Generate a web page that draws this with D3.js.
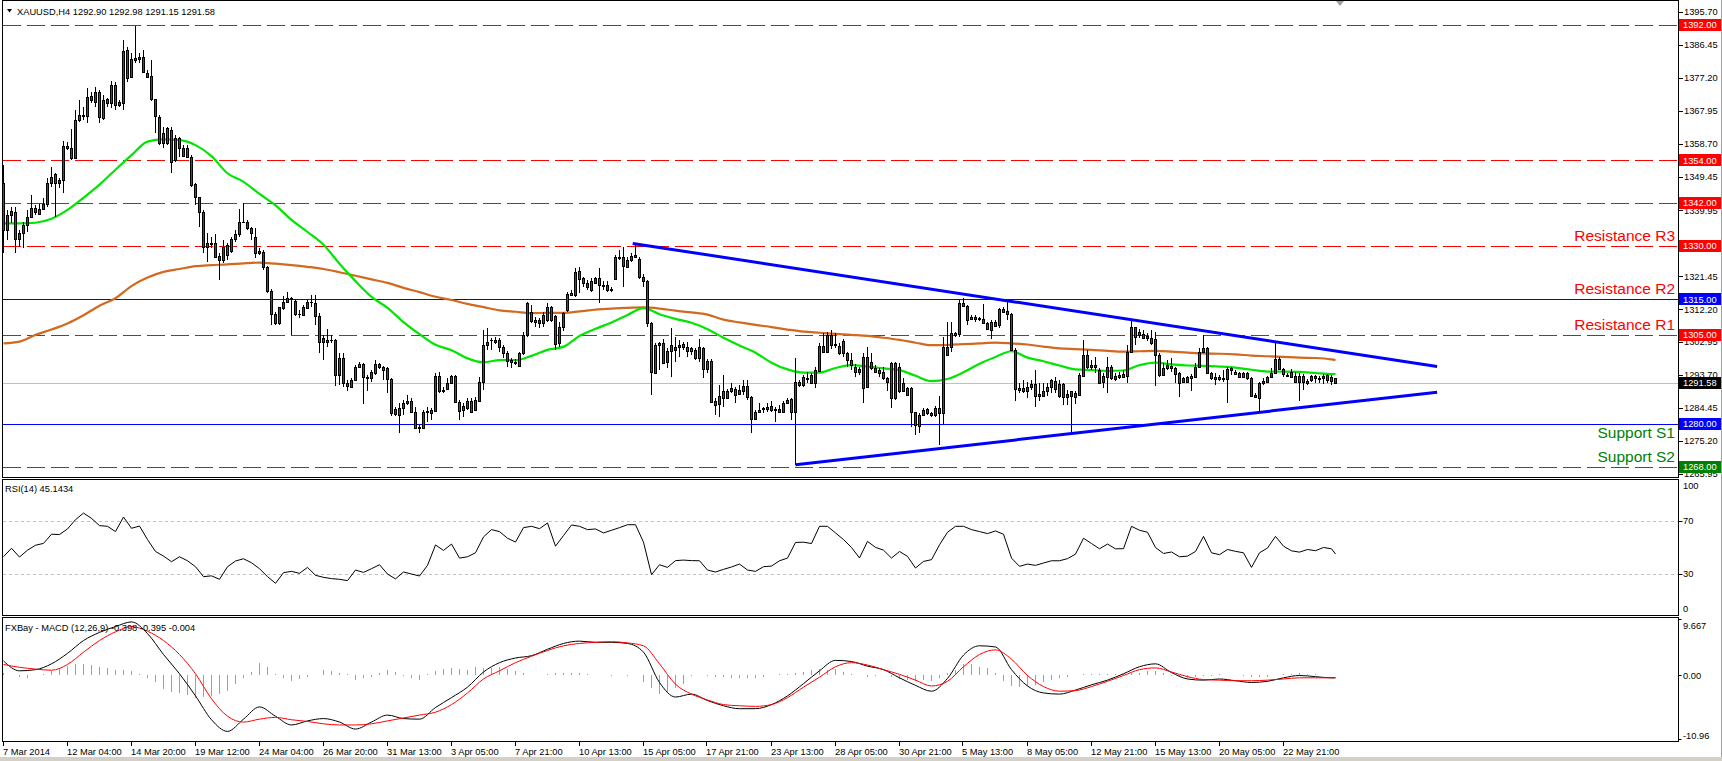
<!DOCTYPE html>
<html><head><meta charset="utf-8">
<script src="https://cdn.jsdelivr.net/npm/d3@7"></script>
<style>
html,body{margin:0;padding:0;background:#fff;overflow:hidden;}
svg{display:block;}
text{font-family:"Liberation Sans",Arial,sans-serif;}
</style></head><body>
<svg id="c" width="1722" height="761"></svg>
<script>
// ---------------- DATA ----------------
const symbolTitle = "XAUUSD,H4  1292.90 1292.98 1291.15 1291.58";
const rsiTitle = "RSI(14) 45.1434";
const macdTitle = "FXBay - MACD (12,26,9) -0.398 -0.395 -0.004";

const O = [1347.8,1334.5,1338.7,1339.6,1331.8,1333.7,1335.9,1338.2,1340.6,1339.0,
1340.4,1341.7,1347.6,1350.1,1347.8,1348.5,1358.1,1357.4,1354.8,1365.5,
1366.5,1366.5,1372.1,1370.5,1373.1,1365.8,1370.0,1370.0,1375.2,1370.4,
1370.2,1385.0,1377.5,1382.2,1383.1,1383.1,1378.7,1377.7,1371.2,1366.2,
1358.8,1363.0,1362.6,1354.1,1360.2,1355.3,1357.6,1355.1,1347.5,1343.6,
1339.6,1329.8,1330.7,1330.7,1327.2,1325.9,1330.3,1328.7,1331.8,1333.3,
1336.7,1336.7,1334.9,1332.6,1327.9,1328.4,1324.0,1317.3,1310.9,1308.3,
1312.5,1314.3,1315.3,1314.6,1310.8,1310.6,1312.5,1314.3,1313.9,1310.3,
1303.1,1303.7,1303.7,1303.6,1293.6,1298.4,1291.6,1290.5,1292.3,1295.9,
1296.8,1293.1,1292.8,1294.2,1295.9,1296.1,1295.6,1292.5,1282.8,1282.5,
1284.4,1285.8,1286.5,1283.4,1279.2,1278.9,1283.2,1283.0,1283.7,1293.5,
1289.2,1289.7,1291.6,1293.5,1286.1,1283.9,1284.4,1286.4,1283.9,1286.5,
1291.7,1302.2,1303.6,1303.1,1303.7,1301.5,1299.8,1297.3,1297.5,1296.3,
1299.8,1305.0,1311.5,1309.2,1309.2,1308.3,1309.2,1312.7,1310.3,1302.6,
1307.3,1312.0,1316.2,1316.2,1323.0,1320.9,1319.7,1317.6,1319.7,1320.9,
1318.7,1319.0,1317.8,1320.6,1327.0,1327.0,1324.2,1326.0,1326.8,1326.3,
1321.4,1320.0,1308.3,1294.4,1302.2,1302.6,1297.5,1300.6,1300.8,1301.7,
1301.7,1301.7,1301.2,1300.8,1298.4,1301.2,1295.3,1297.8,1286.5,1285.6,
1287.2,1287.2,1289.1,1289.7,1289.5,1289.1,1290.7,1287.5,1281.3,1283.4,
1284.1,1284.1,1285.1,1284.1,1283.4,1283.4,1285.8,1286.9,1283.4,1291.8,
1290.9,1292.5,1293.7,1291.4,1294.9,1301.9,1300.3,1305.0,1302.2,1301.9,
1303.3,1299.8,1297.9,1295.9,1295.3,1298.7,1290.3,1297.5,1295.6,1295.1,
1294.7,1292.8,1297.2,1287.2,1295.9,1291.4,1290.0,1290.0,1283.2,1279.4,
1282.5,1283.0,1283.0,1282.5,1284.6,1283.0,1299.4,1301.7,1305.0,1305.2,
1314.0,1313.1,1310.1,1309.9,1309.7,1309.4,1308.4,1306.4,1308.5,1307.8,
1312.2,1311.7,1310.9,1300.8,1289.5,1290.0,1289.1,1290.3,1291.2,1288.4,
1287.8,1289.3,1290.3,1292.1,1291.2,1291.2,1287.5,1289.1,1287.5,1288.1,
1293.5,1299.4,1295.9,1296.1,1295.1,1291.9,1293.3,1296.1,1292.5,1293.7,
1293.1,1293.5,1300.3,1307.1,1305.9,1305.3,1304.7,1302.6,1303.8,1299.4,
1293.7,1295.6,1296.3,1295.6,1294.2,1291.9,1291.9,1292.8,1293.3,1295.9,
1300.3,1301.2,1294.4,1293.3,1293.3,1292.8,1292.5,1295.6,1294.7,1294.2,
1293.3,1294.2,1292.8,1288.1,1287.2,1291.4,1291.9,1293.1,1294.2,1298.1,
1295.3,1293.7,1294.7,1293.5,1291.9,1293.5,1292.1,1292.3,1292.8,1292.8,
1293.5,1292.3,1293.3,1292.90];

const H = [1352.7,1340.1,1340.8,1340.8,1334.5,1336.8,1340.1,1344.3,1341.5,1341.9,
1343.4,1349.0,1352.2,1350.4,1349.0,1359.5,1359.1,1362.8,1368.2,1371.0,
1369.1,1374.4,1373.3,1374.7,1373.8,1372.4,1371.5,1376.4,1376.0,1371.0,
1387.8,1386.0,1384.1,1391.9,1384.1,1385.0,1379.4,1382.2,1371.4,1366.8,
1363.5,1363.5,1363.5,1361.2,1360.7,1358.3,1358.3,1355.5,1347.8,1343.8,
1340.1,1333.5,1332.6,1333.3,1327.9,1331.7,1330.7,1332.6,1334.5,1340.3,
1342.1,1337.3,1335.4,1334.9,1329.3,1328.8,1324.4,1317.8,1311.5,1312.9,
1315.9,1317.1,1315.7,1315.0,1312.0,1313.4,1314.8,1316.2,1316.2,1311.2,
1305.0,1306.6,1304.9,1303.8,1299.8,1299.8,1292.3,1292.8,1296.5,1297.4,
1297.2,1293.7,1295.1,1298.0,1297.2,1296.3,1296.1,1292.8,1284.8,1285.8,
1286.7,1288.1,1287.2,1284.8,1279.7,1283.9,1284.8,1284.4,1294.4,1294.7,
1290.5,1292.8,1293.7,1293.7,1286.7,1285.8,1287.2,1287.2,1287.6,1293.3,
1306.4,1306.8,1304.0,1304.5,1304.0,1302.2,1300.5,1298.4,1298.1,1300.3,
1305.9,1314.3,1313.4,1310.1,1309.7,1311.5,1314.0,1313.1,1310.6,1308.7,
1311.5,1317.1,1317.6,1323.7,1324.2,1321.4,1320.4,1320.9,1321.4,1323.7,
1320.0,1320.0,1318.5,1327.4,1328.8,1329.8,1327.0,1327.9,1330.7,1327.0,
1322.0,1320.4,1308.7,1302.6,1303.1,1303.8,1301.2,1306.8,1304.5,1303.6,
1303.1,1303.1,1301.7,1301.2,1303.8,1301.7,1298.3,1298.1,1287.2,1290.9,
1293.7,1289.7,1291.6,1290.5,1290.9,1292.3,1292.3,1287.8,1283.9,1285.8,
1284.8,1285.8,1286.3,1284.8,1285.3,1286.3,1287.2,1287.2,1298.4,1292.3,
1293.7,1294.7,1294.2,1296.1,1302.6,1305.4,1305.9,1306.4,1305.4,1302.6,
1303.8,1300.2,1299.8,1296.8,1296.1,1299.8,1301.5,1300.0,1296.5,1295.6,
1296.1,1293.3,1297.5,1297.5,1297.2,1292.8,1290.3,1290.5,1283.4,1283.0,
1284.4,1284.4,1283.4,1285.0,1287.8,1304.5,1308.7,1308.7,1305.9,1314.8,
1315.5,1313.4,1310.6,1310.6,1310.1,1313.7,1308.7,1309.2,1309.2,1312.5,
1312.9,1314.3,1311.2,1301.2,1291.4,1292.3,1291.9,1292.3,1295.1,1291.4,
1291.4,1291.4,1292.5,1293.3,1292.3,1291.4,1289.5,1289.3,1289.1,1294.2,
1303.6,1300.8,1298.0,1298.7,1295.6,1294.2,1298.7,1296.6,1294.2,1294.7,
1295.1,1302.2,1309.2,1307.3,1306.6,1306.4,1305.4,1306.4,1305.9,1299.8,
1297.0,1298.0,1298.4,1296.1,1294.7,1293.3,1293.5,1294.0,1297.0,1301.2,
1305.0,1301.7,1294.7,1294.2,1293.7,1295.1,1296.1,1296.1,1295.1,1294.7,
1294.7,1294.7,1293.3,1288.8,1291.9,1292.8,1293.5,1295.6,1303.4,1298.7,
1295.6,1294.2,1295.3,1294.7,1294.4,1294.0,1292.5,1293.7,1293.7,1293.5,
1294.0,1294.0,1293.7,1292.98];

const L = [1327.9,1331.7,1336.3,1327.9,1329.6,1329.3,1333.9,1337.7,1338.7,1338.7,
1340.1,1341.0,1346.6,1338.2,1346.2,1344.9,1356.9,1354.1,1354.6,1364.9,
1365.4,1364.4,1370.0,1369.1,1364.4,1365.4,1369.1,1368.6,1368.2,1369.1,
1368.2,1376.1,1377.1,1381.3,1381.3,1378.5,1377.1,1370.8,1361.6,1358.3,
1357.4,1358.3,1350.6,1353.7,1355.1,1355.1,1354.6,1346.6,1341.5,1335.4,
1327.9,1325.6,1329.3,1326.5,1320.4,1325.1,1326.0,1327.9,1331.2,1332.6,
1336.3,1334.5,1331.7,1326.5,1327.4,1323.2,1316.7,1307.8,1307.8,1307.8,
1312.0,1313.9,1305.0,1310.3,1309.7,1310.3,1312.2,1312.9,1307.8,1300.0,
1297.9,1301.7,1302.6,1290.7,1290.9,1290.5,1289.1,1290.3,1292.1,1295.6,
1285.5,1289.1,1291.9,1293.7,1295.5,1292.3,1288.6,1282.2,1282.2,1277.3,
1282.5,1285.3,1283.2,1278.8,1277.3,1278.8,1280.6,1281.1,1283.4,1288.8,
1288.6,1289.5,1291.4,1285.8,1281.1,1282.0,1283.9,1283.2,1283.7,1286.2,
1289.5,1300.8,1300.8,1302.4,1300.3,1298.4,1296.0,1295.6,1296.5,1296.1,
1299.4,1304.5,1308.3,1307.3,1306.8,1307.3,1308.7,1308.7,1300.8,1301.7,
1306.0,1311.5,1315.9,1315.7,1316.7,1318.5,1317.6,1317.1,1319.5,1313.9,
1317.6,1317.1,1317.1,1320.4,1326.0,1318.5,1323.7,1325.6,1326.5,1320.6,
1318.5,1307.3,1288.1,1294.2,1295.1,1297.0,1295.6,1293.3,1297.5,1298.9,
1300.8,1298.9,1299.4,1297.9,1297.5,1292.8,1294.2,1286.0,1282.5,1281.9,
1284.8,1286.9,1288.6,1285.8,1288.1,1288.1,1286.7,1277.4,1281.1,1283.0,
1283.0,1283.4,1283.4,1280.6,1283.2,1283.0,1285.6,1281.1,1268.5,1290.5,
1290.5,1291.4,1291.2,1290.0,1294.7,1299.8,1300.0,1301.0,1301.2,1299.4,
1298.9,1296.1,1295.1,1293.3,1293.7,1285.9,1290.0,1295.1,1294.2,1293.3,
1292.3,1289.3,1284.4,1286.7,1288.6,1289.0,1287.8,1279.2,1276.9,1277.4,
1282.2,1282.5,1282.0,1281.8,1274.1,1279.7,1299.1,1300.3,1304.5,1304.5,
1312.9,1307.8,1309.2,1308.7,1309.0,1308.3,1306.4,1303.8,1307.3,1306.8,
1311.1,1309.2,1300.6,1286.5,1288.6,1288.6,1287.2,1289.5,1284.7,1286.3,
1287.5,1287.7,1288.6,1288.6,1287.2,1285.3,1285.3,1277.2,1285.6,1287.7,
1293.5,1295.5,1295.1,1294.2,1291.4,1290.0,1288.8,1292.3,1292.1,1292.5,
1292.8,1291.4,1299.8,1302.2,1304.0,1303.8,1303.4,1302.2,1290.7,1293.3,
1293.5,1295.1,1294.7,1291.6,1287.5,1291.4,1291.6,1289.1,1293.1,1295.6,
1299.8,1294.2,1292.3,1290.9,1292.1,1291.9,1285.8,1293.7,1293.7,1292.8,
1292.8,1292.3,1287.7,1287.2,1283.2,1290.9,1291.4,1292.8,1294.0,1295.1,
1293.3,1293.1,1293.1,1291.4,1286.5,1289.5,1290.9,1291.9,1291.4,1291.4,
1291.2,1291.4,1290.9,1291.15];

const C = [1334.5,1338.7,1339.8,1331.8,1333.7,1335.9,1338.2,1340.6,1339.4,1340.4,
1341.7,1347.6,1349.4,1347.6,1348.5,1358.1,1357.4,1354.8,1365.5,1366.7,
1366.8,1371.9,1371.0,1373.1,1366.3,1371.0,1371.2,1375.2,1369.6,1369.5,
1384.7,1377.1,1382.4,1382.9,1382.5,1378.8,1377.5,1371.2,1366.5,1358.8,
1361.6,1359.0,1353.7,1360.2,1357.4,1357.6,1355.1,1347.1,1343.6,1339.6,
1329.6,1330.7,1330.5,1327.0,1325.9,1329.8,1327.5,1331.8,1333.3,1336.7,
1336.6,1334.9,1333.7,1328.1,1328.6,1324.0,1317.3,1310.9,1308.3,1312.7,
1314.3,1315.3,1315.1,1310.8,1310.9,1312.7,1314.3,1314.2,1310.3,1303.1,
1304.0,1303.1,1303.6,1293.6,1298.4,1291.6,1290.6,1292.3,1295.9,1296.8,
1293.1,1292.8,1294.7,1296.8,1296.8,1295.1,1292.5,1283.0,1284.1,1284.4,
1286.0,1286.5,1283.4,1278.9,1278.9,1283.4,1283.6,1283.9,1293.5,1289.2,
1289.5,1291.6,1293.5,1286.1,1283.7,1285.0,1286.4,1283.4,1286.7,1291.7,
1302.2,1303.0,1303.7,1303.7,1301.5,1299.8,1297.6,1297.9,1297.2,1299.8,
1305.0,1314.0,1309.0,1308.7,1308.3,1310.6,1312.9,1309.2,1302.4,1307.3,
1311.1,1316.5,1316.7,1322.8,1320.6,1319.7,1318.5,1320.0,1320.9,1319.0,
1319.0,1317.6,1317.7,1326.8,1326.5,1324.3,1326.0,1327.2,1327.4,1321.4,
1320.0,1308.3,1294.7,1302.2,1302.6,1297.2,1300.6,1302.2,1301.7,1302.2,
1302.3,1300.6,1300.6,1298.4,1301.5,1295.3,1297.8,1286.2,1285.3,1287.7,
1289.1,1289.3,1290.0,1288.1,1288.3,1290.6,1287.5,1281.3,1283.4,1283.9,
1284.4,1284.8,1283.9,1283.9,1284.1,1285.8,1286.7,1283.4,1291.8,1290.9,
1293.3,1293.0,1291.6,1295.1,1301.9,1300.3,1305.0,1302.2,1302.4,1300.0,
1299.8,1297.9,1296.5,1294.7,1294.7,1290.0,1298.7,1295.6,1294.7,1294.2,
1292.8,1291.9,1287.2,1297.2,1289.1,1289.3,1288.1,1283.2,1279.7,1282.5,
1283.9,1284.1,1282.5,1284.6,1283.0,1301.7,1301.7,1305.4,1305.4,1314.0,
1313.1,1309.2,1309.4,1309.4,1309.4,1308.4,1306.6,1308.7,1307.5,1312.2,
1311.5,1310.8,1300.8,1289.7,1290.0,1289.1,1290.5,1291.2,1287.8,1287.8,
1289.3,1290.5,1292.3,1289.7,1287.7,1287.5,1288.4,1287.7,1288.8,1293.7,
1299.4,1295.9,1296.6,1296.6,1291.6,1293.5,1296.1,1292.8,1293.5,1293.1,
1294.0,1300.3,1307.1,1304.5,1305.0,1304.2,1304.0,1304.0,1299.4,1293.7,
1295.6,1296.6,1295.6,1294.0,1291.6,1292.8,1293.3,1293.5,1295.9,1300.3,
1301.2,1294.4,1292.8,1292.5,1292.5,1292.5,1295.3,1295.1,1294.0,1293.3,
1294.2,1292.8,1287.8,1287.5,1291.6,1292.1,1293.1,1294.4,1298.1,1295.3,
1294.0,1293.5,1293.3,1291.9,1293.5,1291.9,1291.6,1293.5,1293.5,1292.5,
1292.8,1293.7,1292.1,1291.58];

// moving averages, read every 4th bar (last value = last bar)
const maFast = [1336.3,1336.3,1336.5,1337.6,1340.1,1343.5,1347.2,1351.4,1355.5,1359.3,
1359.9,1359.7,1358.3,1355.2,1350.4,1348.0,1344.6,1341.4,1337.3,1333.9,
1330.3,1325.0,1320.1,1315.7,1312.6,1308.6,1305.2,1302.2,1300.7,1298.4,
1297.3,1297.9,1297.9,1299.1,1300.8,1301.7,1304.7,1306.7,1308.5,1310.6,
1312.5,1310.8,1309.5,1308.4,1306.6,1304.2,1302.0,1300.0,1297.2,1295.3,
1294.4,1294.4,1295.7,1296.5,1296.1,1295.6,1295.1,1293.5,1292.0,1292.6,
1294.5,1296.9,1298.8,1300.4,1298.6,1297.6,1296.4,1295.3,1295.1,1294.9,
1295.0,1296.5,1297.2,1296.7,1296.4,1296.3,1296.1,1295.8,1295.2,1294.7,
1294.7,1294.6,1294.3,1294.0,1294.0];
const maSlow = [1302.6,1303.1,1305.0,1306.5,1308.2,1310.5,1313.2,1315.3,1318.7,1321.1,
1322.7,1323.5,1324.3,1324.6,1324.8,1325.1,1325.3,1325.0,1324.6,1324.1,
1323.5,1322.6,1321.6,1320.6,1319.6,1318.2,1317.0,1315.7,1314.8,1313.7,
1312.8,1311.9,1311.5,1311.1,1311.2,1311.2,1311.6,1312.1,1312.4,1312.6,
1312.7,1312.4,1311.8,1311.3,1310.7,1309.3,1308.5,1307.8,1307.2,1306.5,
1305.9,1305.6,1305.3,1305.0,1304.7,1304.2,1303.6,1302.8,1302.1,1302.2,
1302.4,1302.6,1302.8,1302.6,1302.3,1301.7,1301.2,1301.0,1300.8,1300.5,
1300.3,1300.4,1300.5,1300.3,1300.0,1299.8,1299.7,1299.5,1299.2,1299.0,
1298.8,1298.6,1298.5,1298.1,1297.9];

// RSI(14), read every 2nd bar (last value = last bar)
const rsi = [43.1,49.4,42.8,48.0,51.7,53.1,60.0,59.8,64.0,71.0,
76.0,72.0,66.5,66.0,62.0,73.0,64.5,66.2,56.0,47.0,
43.5,39.3,43.0,40.0,35.5,28.0,28.6,26.0,35.5,39.8,
41.5,38.5,34.0,28.0,23.0,31.0,32.0,30.5,35.0,29.0,
27.5,26.5,26.0,25.0,33.0,31.2,34.0,37.0,30.0,26.3,
31.5,30.0,28.5,36.5,51.9,47.8,52.6,42.0,43.0,46.0,
58.0,63.5,62.0,57.0,54.1,65.0,66.0,64.2,68.5,51.0,
59.0,67.0,66.0,63.5,64.0,61.0,63.0,65.0,67.2,67.2,
54.0,29.5,37.0,35.0,40.1,40.5,40.1,40.0,33.0,31.5,
33.5,35.3,37.5,33.0,32.0,35.5,36.0,40.0,42.0,53.8,
54.0,53.0,66.0,66.0,61.0,56.0,50.0,42.1,54.6,50.1,
48.0,42.0,47.0,43.3,34.5,39.5,40.8,52.0,61.5,66.0,
66.0,63.5,62.0,60.5,62.5,60.0,42.0,35.8,37.5,36.5,
38.3,40.0,40.0,41.6,45.0,57.0,53.0,49.0,52.6,49.0,
49.1,66.0,63.0,61.5,50.0,45.5,46.6,43.0,43.5,47.0,
58.4,46.0,44.6,48.5,47.1,46.0,35.0,46.0,49.6,58.4,
51.0,47.5,46.5,48.5,47.6,50.0,49.0,45.1];

// MACD main & signal, read every 4th bar (last value = last bar)
const macdMain = [2.5,0.8,1.0,2.0,3.8,6.0,7.4,8.4,9.2,7.2,
3.6,0.3,-3.5,-7.6,-9.6,-7.5,-5.4,-7.0,-8.5,-7.8,
-7.4,-8.0,-9.2,-8.0,-6.8,-7.4,-7.5,-5.5,-3.8,-2.0,
0.6,2.2,3.0,3.4,4.5,5.5,5.9,5.7,5.7,5.5,
4.0,-1.2,-3.7,-3.2,-4.3,-5.2,-5.7,-5.7,-5.0,-3.5,
-1.4,0.8,2.6,2.4,1.6,1.0,-0.4,-1.7,-2.7,-0.5,
3.5,5.1,4.9,1.0,-1.8,-3.0,-3.2,-2.5,-1.6,-0.8,
0.3,1.5,2.0,0.5,-0.6,-0.8,-0.6,-0.9,-1.2,-1.0,
-0.4,0.0,-0.2,-0.4,-0.398];
const macdSignal = [1.9,1.4,1.1,0.9,1.9,4.0,6.0,7.5,8.4,7.6,
6.0,3.6,0.3,-4.0,-7.0,-8.0,-7.5,-7.2,-7.6,-7.9,
-8.3,-8.5,-8.5,-8.3,-7.8,-7.3,-6.8,-6.3,-5.0,-3.0,
-0.6,0.8,2.2,3.3,4.3,5.1,5.5,5.7,5.8,5.6,
5.1,2.0,-1.5,-3.2,-4.2,-5.0,-5.2,-5.3,-5.0,-3.8,
-2.0,-0.3,1.5,2.2,1.8,1.0,0.2,-0.8,-1.8,-1.0,
1.5,3.6,4.4,2.8,0.0,-1.9,-2.7,-2.6,-1.9,-1.0,
0.0,1.0,1.3,0.6,-0.2,-0.7,-0.8,-0.9,-0.9,-0.8,
-0.6,-0.4,-0.4,-0.4,-0.395];
// MACD histogram, read every 2nd bar
const macdHist = [0.5,0.0,-0.3,-0.4,0.0,0.3,0.8,1.2,
1.6,1.9,2.0,1.8,1.4,1.2,1.0,0.9,
0.8,0.2,-0.4,-1.2,-2.4,-2.8,-3.0,-3.3,
-3.8,-3.7,-3.6,-3.2,-2.6,-1.5,-0.5,0.6,
2.1,1.5,0.2,-0.5,-0.9,-0.6,-0.2,0.1,
0.9,0.7,0.5,0.2,-0.7,-0.4,-0.2,0.5,
1.0,0.6,-0.1,-0.4,-0.7,0.2,0.8,1.1,
1.2,1.1,1.0,1.4,1.2,1.3,1.4,1.1,
0.8,0.5,0.1,0.0,0.2,0.4,0.4,0.5,
0.4,0.2,0.0,0.0,-0.1,0.0,-0.1,0.0,
-1.1,-2.2,-3.2,-2.9,-2.2,-1.5,-0.1,0.0,
-0.1,-0.2,-0.2,-0.4,-0.5,-0.4,-0.4,-0.2,
0.0,0.2,0.3,0.4,0.6,1.0,1.1,1.0,
1.1,0.6,0.2,0.0,-0.2,-0.1,0.0,-0.3,
-0.6,-0.8,-0.9,-0.8,-0.9,-0.4,0.5,0.9,
2.0,2.0,1.5,1.3,0.5,-0.9,-1.8,-1.9,
-1.8,-1.6,-1.1,-0.8,-0.5,-0.2,0.1,0.2,
0.3,0.2,0.2,0.2,0.3,0.4,0.5,0.7,
0.7,0.4,-0.1,-0.3,-0.4,-0.3,-0.1,-0.1,
0.2,0.0,0.0,-0.1,-0.3,-0.2,-0.2,0.0,
0.2,0.3,0.4,0.3,0.2,0.1,0.0];

// time axis labels (every 16 bars)
const timeLabels = ["7 Mar 2014","12 Mar 04:00","14 Mar 20:00","19 Mar 12:00","24 Mar 04:00",
"26 Mar 20:00","31 Mar 13:00","3 Apr 05:00","7 Apr 21:00","10 Apr 13:00","15 Apr 05:00",
"17 Apr 21:00","23 Apr 13:00","28 Apr 05:00","30 Apr 21:00","5 May 13:00","8 May 05:00",
"12 May 21:00","15 May 13:00","20 May 05:00","22 May 21:00"];
const timeLabelStep = 16;

// price axis
const priceTicks = [1395.70,1386.45,1377.20,1367.95,1358.70,1349.45,1339.95,1330.70,1321.45,1312.20,1302.95,1293.70,1284.45,1275.20,1265.95];
const priceDomain = [1265.95,1395.70];
const rsiTicks = [100,70,30,0];
const rsiLevels = [70,30];
const macdTicks = [9.667,0.00,-10.96];

// horizontal levels
const resistanceLevels = [1392,1354,1342,1330,1305];
const blueLevels = [1315,1280];
const supportLevels = [1268];
const lastPrice = 1291.58;
const levelTexts = ["Resistance R3","Resistance R2","Resistance R1","Support S1","Support S2"];
const levelTextPrices = [1330,1315,1305,1280,1268];

// triangle trendlines: [bar index, price]
const upperTrend = [[157.3,1330.7],[358.4,1296.1]];
const lowerTrend = [[198.0,1268.5],[358.4,1288.9]];

// ---------------- DRAW ----------------
const svg = d3.select('#c');
const nBars = O.length;
const PL = 2.5, PR = 1678.5;
const main = {top:0.5, bottom:477.5};
const rsiP = {top:479.5, bottom:615.5};
const macdP = {top:617.5, bottom:741.5};
const DASH = '18,6', DOT = '3,3';

svg.append('rect').attr('width',1722).attr('height',761).attr('fill','#fff');
svg.append('rect').attr('x',0).attr('y',757).attr('width',1722).attr('height',4).attr('fill','#d4d0c8');
svg.append('rect').attr('x',1721).attr('y',0).attr('width',1).attr('height',757).attr('fill','#a0a0a0');

const x = d3.scaleLinear().domain([0, nBars-1]).range([3.5, 3.5 + 4*(nBars-1)]);
const y = d3.scaleLinear().domain(priceDomain).range([473.9, 12]);
const yR = d3.scaleLinear().domain([0,100]).range([613.75, 481.25]);
const yM = d3.scaleLinear().domain([-10.96, 9.667]).range([739.3, 619.2]);
const snap = v => Math.round(v) + 0.5;

const defs = svg.append('defs');
function clip(id, p){ defs.append('clipPath').attr('id',id).append('rect')
  .attr('x',PL+0.5).attr('y',p.top+0.5).attr('width',PR-PL-1).attr('height',p.bottom-p.top-1); }
clip('cm',main); clip('cr',rsiP); clip('cmd',macdP);

const gMain = svg.append('g').attr('clip-path','url(#cm)');

// level lines
const gL = gMain.append('g').attr('shape-rendering','crispEdges');
resistanceLevels.forEach(p => gL.append('line').attr('x1',PL+0.5).attr('x2',PR)
  .attr('y1',snap(y(p))).attr('y2',snap(y(p))).attr('stroke','#ff0000').attr('stroke-dasharray',DASH));
supportLevels.forEach(p => gL.append('line').attr('x1',PL+0.5).attr('x2',PR)
  .attr('y1',snap(y(p))).attr('y2',snap(y(p))).attr('stroke','#008000').attr('stroke-dasharray',DASH));
blueLevels.forEach(p => gL.append('line').attr('x1',PL).attr('x2',PR)
  .attr('y1',snap(y(p))).attr('y2',snap(y(p))).attr('stroke','#0000ff'));
gL.append('line').attr('x1',PL).attr('x2',PR).attr('y1',snap(y(lastPrice))).attr('y2',snap(y(lastPrice))).attr('stroke','#c0c0c0');

// MAs
const maIdx = k => Math.min(k*4, nBars-1);
const lineMA = d3.line().x((d,k)=>x(maIdx(k))).y(d=>y(d)).curve(d3.curveMonotoneX);
gMain.append('path').attr('d',lineMA(maSlow)).attr('fill','none').attr('stroke','#d2691e').attr('stroke-width',2.2);
gMain.append('path').attr('d',lineMA(maFast)).attr('fill','none').attr('stroke','#00e600').attr('stroke-width',2.2);

// candles
const bars = d3.range(nBars).map(i=>({i,o:O[i],h:H[i],l:L[i],c:C[i]}));
const gc = gMain.append('g').attr('shape-rendering','crispEdges');
gc.selectAll('line.w').data(bars).join('line').attr('class','w')
  .attr('x1',d=>x(d.i)).attr('x2',d=>x(d.i)).attr('y1',d=>y(d.h)).attr('y2',d=>y(d.l)).attr('stroke','#000');
gc.selectAll('rect.b').data(bars).join('rect').attr('class','b')
  .attr('x',d=>x(d.i)-1.5).attr('width',3)
  .attr('y',d=>Math.round(y(Math.max(d.o,d.c))))
  .attr('height',d=>Math.max(1,Math.round(y(Math.min(d.o,d.c)))-Math.round(y(Math.max(d.o,d.c)))+1))
  .attr('fill','#000');
gc.selectAll('rect.f').data(bars.filter(d=>Math.round(y(Math.min(d.o,d.c)))-Math.round(y(Math.max(d.o,d.c)))>=2)).join('rect').attr('class','f')
  .attr('x',d=>x(d.i)-0.5).attr('width',1)
  .attr('y',d=>Math.round(y(Math.max(d.o,d.c)))+1)
  .attr('height',d=>Math.round(y(Math.min(d.o,d.c)))-Math.round(y(Math.max(d.o,d.c)))-1)
  .attr('fill',d=>d.c>=d.o?'#008000':'#ff0000');

// trendlines
const xb = d3.scaleLinear().domain([0,1]).range([x(0), x(1)]);
[upperTrend, lowerTrend].forEach(t => gMain.append('line')
  .attr('x1',xb(t[0][0])).attr('y1',y(t[0][1])).attr('x2',xb(t[1][0])).attr('y2',y(t[1][1]))
  .attr('stroke','#0000ff').attr('stroke-width',3));

// level texts
levelTexts.forEach((t,k)=>{
  const p = levelTextPrices[k];
  const below = t === "Support S1";
  gMain.append('text').attr('x',1675).attr('y', y(p) + (below ? 14.5 : -5))
    .attr('text-anchor','end').attr('font-size','15.5px')
    .attr('fill', t.startsWith('Support') ? '#008000' : '#ff0000').text(t);
});

// chart shift marker
svg.append('path').attr('d','M1336,1 L1344,1 L1340,6 Z').attr('fill','#a0a0a0');

// title
svg.append('path').attr('d','M7,9 L12,9 L9.5,12.5 Z').attr('fill','#000');
svg.append('text').attr('x',17).attr('y',14.5).attr('font-size','9.3px').text(symbolTitle);

// RSI panel
const gR = svg.append('g').attr('clip-path','url(#cr)');
rsiLevels.forEach(v => gR.append('line').attr('x1',PL+0.5).attr('x2',PR).attr('y1',snap(yR(v))).attr('y2',snap(yR(v)))
  .attr('stroke','#c0c0c0').attr('stroke-dasharray',DOT).attr('shape-rendering','crispEdges'));
const rsiIdx = k => Math.min(k*2, nBars-1);
gR.append('path').attr('d', d3.line().x((d,k)=>x(rsiIdx(k))).y(d=>yR(d))(rsi))
  .attr('fill','none').attr('stroke','#000').attr('stroke-width',1);
svg.append('text').attr('x',5).attr('y',492).attr('font-size','9.3px').text(rsiTitle);

// MACD panel
const gM = svg.append('g').attr('clip-path','url(#cmd)');
gM.append('g').attr('shape-rendering','crispEdges').selectAll('line').data(macdHist).join('line')
  .attr('x1',(d,k)=>x(k*2)).attr('x2',(d,k)=>x(k*2)).attr('y1',yM(0)).attr('y2',d=>yM(d)).attr('stroke','#a0a0a0');
const lineM = d3.line().x((d,k)=>x(maIdx(k))).y(d=>yM(d)).curve(d3.curveMonotoneX);
gM.append('path').attr('d',lineM(macdMain)).attr('fill','none').attr('stroke','#000').attr('stroke-width',1);
gM.append('path').attr('d',lineM(macdSignal)).attr('fill','none').attr('stroke','#ff0000').attr('stroke-width',1);
svg.append('text').attr('x',5).attr('y',630.5).attr('font-size','9.3px').text(macdTitle);

// frames
const gF = svg.append('g').attr('shape-rendering','crispEdges');
[main, rsiP, macdP].forEach(p => gF.append('rect').attr('x',PL).attr('y',p.top)
  .attr('width',PR-PL).attr('height',p.bottom-p.top).attr('fill','none').attr('stroke','#000'));

// right price axis
const gA = svg.append('g');
priceTicks.forEach(p => {
  gA.append('line').attr('x1',PR).attr('x2',PR+4).attr('y1',snap(y(p))).attr('y2',snap(y(p))).attr('stroke','#000').attr('shape-rendering','crispEdges');
  gA.append('text').attr('x',1684).attr('y',y(p)+3.3).attr('font-size','9.3px').text(p.toFixed(2));
});
function priceBox(p, color){
  const yc = y(p);
  gA.append('rect').attr('x',1679).attr('y',Math.round(yc-6)).attr('width',42).attr('height',12).attr('fill',color);
  gA.append('text').attr('x',1683).attr('y',yc+3.3).attr('font-size','9.3px').attr('fill','#fff').text(p.toFixed(2));
}
resistanceLevels.forEach(p=>priceBox(p,'#ff0000'));
blueLevels.forEach(p=>priceBox(p,'#0000ff'));
supportLevels.forEach(p=>priceBox(p,'#008000'));
priceBox(lastPrice,'#000');

// RSI axis
rsiTicks.forEach(v => {
  const yy = yR(v);
  if (v===70 || v===30) gA.append('line').attr('x1',PR).attr('x2',PR+4).attr('y1',snap(yy)).attr('y2',snap(yy)).attr('stroke','#000');
  const ly = (v===100) ? yy+8 : (v===0 ? yy-2 : yy+3.3);
  gA.append('text').attr('x',1683).attr('y',ly).attr('font-size','9.3px').text(String(v));
});
// MACD axis
macdTicks.forEach(v => {
  const yy = yM(v);
  gA.append('line').attr('x1',PR).attr('x2',PR+3).attr('y1',snap(yy)).attr('y2',snap(yy)).attr('stroke','#000');
  const ly = (v===macdTicks[0]) ? yy+10 : (v===macdTicks[2] ? yy-0.7 : yy+3.3);
  gA.append('text').attr('x',1683).attr('y',ly).attr('font-size','9.3px').text(v===0?'0.00':String(v));
});

// time axis
timeLabels.forEach((t,k) => {
  const xx = Math.round(x(k*timeLabelStep)) - 0.5;
  gA.append('line').attr('x1',xx).attr('x2',xx).attr('y1',741.5).attr('y2',746).attr('stroke','#000');
  gA.append('text').attr('x',xx-0.5).attr('y',755).attr('font-size','9.3px').text(t);
});
</script>
</body></html>
